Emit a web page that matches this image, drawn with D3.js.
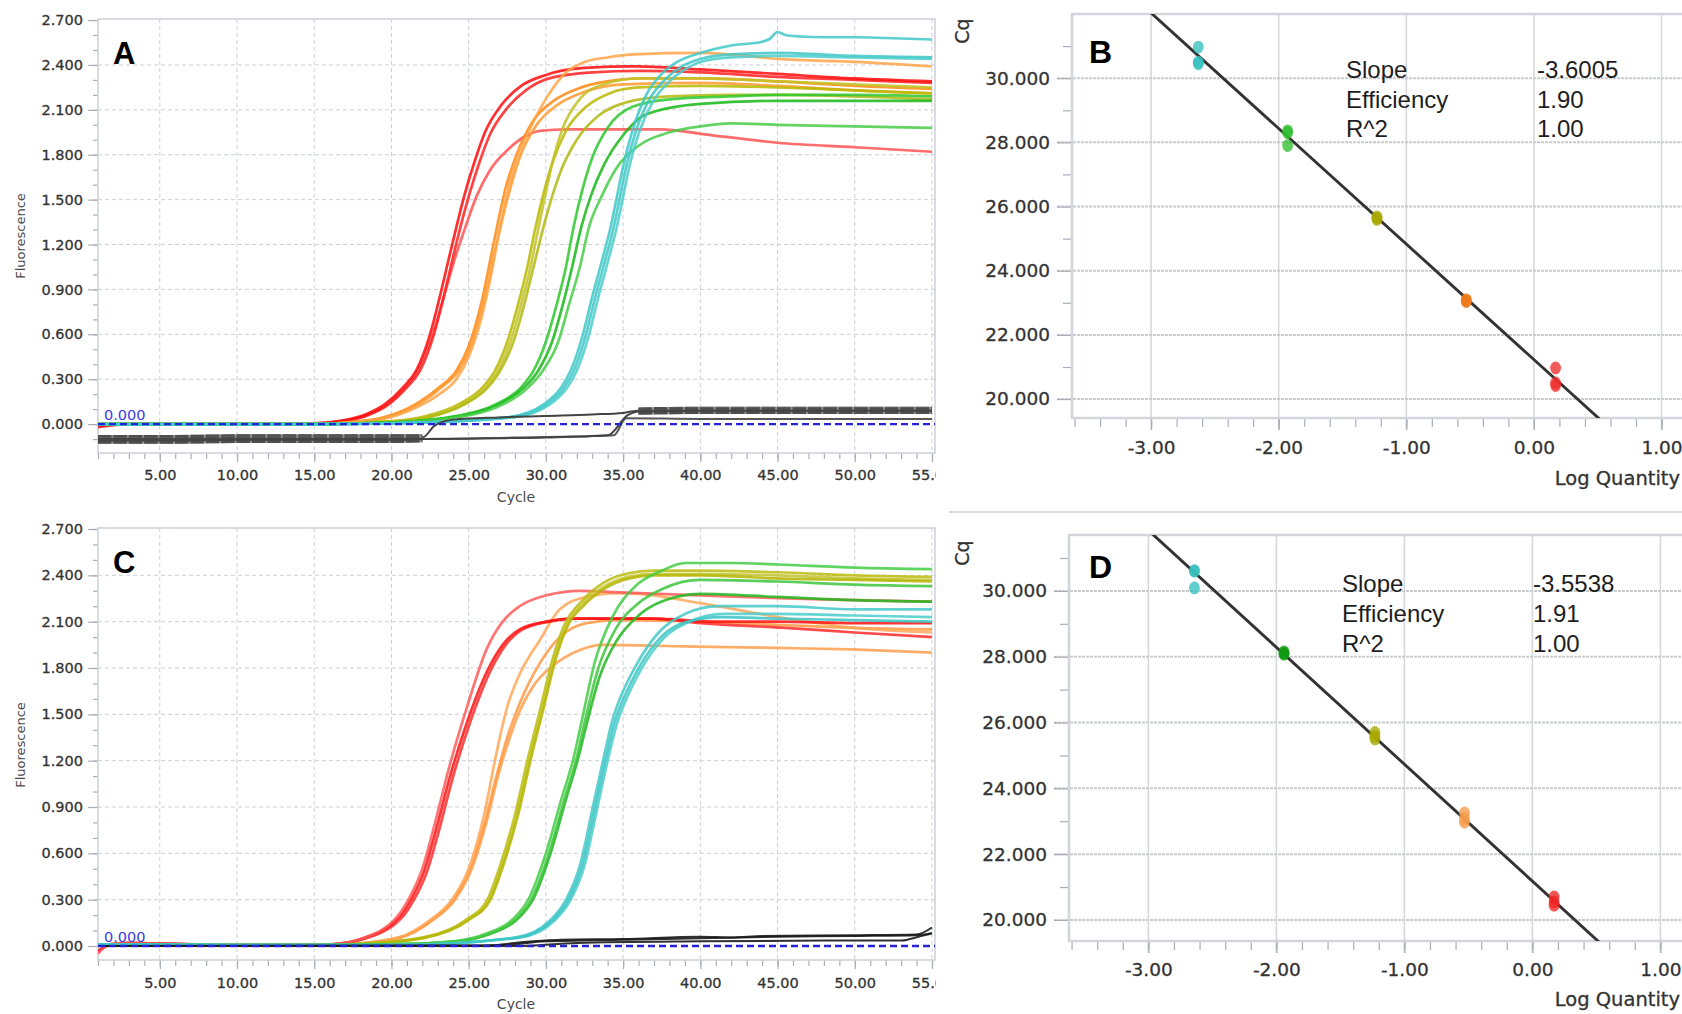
<!DOCTYPE html>
<html><head><meta charset="utf-8">
<script src="https://cdn.jsdelivr.net/npm/d3@7"></script>
<style>body{margin:0;background:#fff}svg{display:block}</style>
</head><body>
<svg id="chart" width="1682" height="1014"></svg>
<script>
// ---------------- DATA ----------------
const cycleTicks = [5,10,15,20,25,30,35,40,45,50,55];
const fluorTicks = [0,0.3,0.6,0.9,1.2,1.5,1.8,2.1,2.4,2.7];
const logQtyTicks = [-3,-2,-1,0,1];
const cqTicks = [20,22,24,26,28,30];
const statLabels = ['Slope','Efficiency','R^2'];
const statsB = ['-3.6005','1.90','1.00'];
const statsD = ['-3.5538','1.91','1.00'];
const thresholdLabel = '0.000';

// Panel A amplification curves [cycle, fluorescence]
const A_R1 = [[1,-0.01],[3,0],[10,0],[15,0.005],[16.8,0.024],[18.4,0.068],[19.6,0.135],[20.75,0.246],[21.6,0.357],[22.5,0.6],[23.2,0.88],[23.7,1.1],[24.26,1.34],[24.7,1.52],[25.4,1.76],[26.1,1.96],[27.1,2.13],[28.4,2.26],[29.9,2.33],[32.5,2.38],[35.7,2.39],[40,2.37],[45,2.34],[50,2.31],[55,2.29]];
const A_R2 = [[1,-0.02],[3,0],[10,0],[15,0.005],[17,0.022],[18.6,0.065],[19.8,0.13],[21,0.245],[21.85,0.357],[22.75,0.6],[23.45,0.88],[23.95,1.1],[24.5,1.33],[25,1.52],[25.7,1.75],[26.4,1.94],[27.4,2.1],[28.7,2.23],[30.2,2.31],[33,2.35],[36,2.36],[40,2.35],[45,2.32],[50,2.3],[55,2.28]];
const A_R3 = [[1,-0.01],[3,0],[10,0],[15,0.005],[16.8,0.02],[18.4,0.06],[19.6,0.12],[20.75,0.23],[21.6,0.34],[22.5,0.55],[23.2,0.78],[24,1.07],[24.8,1.32],[25.5,1.52],[26.4,1.7],[27.5,1.83],[28.6,1.92],[29.6,1.96],[31.4,1.97],[35.7,1.97],[37.5,1.97],[40,1.94],[45,1.88],[50,1.85],[55,1.82]];
const A_O1 = [[1,0],[10,0],[15,0],[17,0.008],[19.5,0.035],[21.6,0.11],[23.1,0.2],[24.2,0.3],[25,0.45],[25.8,0.7],[26.5,1.02],[27,1.3],[27.4,1.5],[28,1.74],[29,1.98],[30.1,2.19],[31.2,2.34],[32.5,2.42],[34,2.45],[35.7,2.47],[40,2.48],[42,2.47],[45,2.44],[50,2.42],[55,2.39]];
const A_O2 = [[1,0],[10,0],[15,0],[17,0.01],[19.5,0.045],[21.6,0.135],[23.1,0.246],[24.2,0.357],[25,0.52],[25.8,0.8],[26.6,1.2],[27.4,1.58],[28.1,1.8],[29.2,2.03],[30.5,2.16],[32.3,2.25],[34.7,2.3],[36.2,2.31],[40,2.31],[45,2.29],[50,2.26],[55,2.24]];
const A_O3 = [[1,0],[10,0],[15,0],[17,0.01],[19.7,0.045],[21.8,0.135],[23.25,0.246],[24.35,0.357],[25.15,0.52],[25.95,0.8],[26.75,1.18],[27.55,1.52],[28.3,1.78],[29.4,2.0],[30.7,2.13],[32.5,2.22],[35,2.27],[40,2.28],[45,2.26],[50,2.23],[55,2.21]];
const A_Y1 = [[1,0],[10,0],[15,0],[20,0.02],[22.3,0.056],[24.4,0.135],[25.9,0.246],[26.7,0.357],[27.5,0.55],[28.2,0.8],[28.8,1.05],[29.3,1.3],[29.8,1.52],[30.4,1.74],[31.3,1.96],[32.6,2.12],[34.1,2.21],[36,2.25],[40,2.26],[45,2.25],[50,2.23],[55,2.21]];
const A_Y2 = [[1,0],[10,0],[15,0],[20,0.018],[22.5,0.05],[24.6,0.13],[26.1,0.246],[26.9,0.357],[27.7,0.55],[28.4,0.8],[29,1.05],[29.5,1.3],[30,1.55],[30.5,1.78],[31.1,1.98],[32.1,2.16],[33.7,2.27],[36,2.31],[40,2.31],[45,2.29],[50,2.27],[55,2.25]];
const A_Y3 = [[1,0],[10,0],[15,0],[20,0.015],[22.6,0.05],[24.7,0.13],[26.2,0.24],[27,0.35],[27.9,0.55],[28.6,0.8],[29.2,1.05],[29.8,1.3],[30.4,1.52],[31,1.7],[32,1.9],[33.4,2.06],[35.2,2.15],[38,2.19],[42,2.2],[45,2.2],[50,2.19],[55,2.17]];
const A_G1 = [[1,0],[10,0],[15,0],[20,0.01],[24.9,0.068],[26.8,0.135],[28.4,0.246],[29.2,0.357],[30,0.55],[30.7,0.8],[31.3,1.05],[31.8,1.32],[32.4,1.58],[33,1.78],[34,1.98],[35.6,2.12],[38,2.17],[42,2.19],[45,2.2],[50,2.2],[55,2.19]];
const A_G2 = [[1,0],[10,0],[15,0],[20,0.01],[25.1,0.068],[27,0.135],[28.6,0.246],[29.5,0.357],[30.4,0.55],[31.1,0.8],[31.7,1.05],[32.3,1.32],[33,1.55],[33.8,1.74],[35,1.93],[36.5,2.07],[40,2.14],[45,2.16],[50,2.16],[55,2.16]];
const A_G3 = [[1,0],[10,0],[15,0],[20,0.01],[25.3,0.065],[27.2,0.13],[28.8,0.24],[29.8,0.357],[30.8,0.55],[31.5,0.8],[32.2,1.05],[32.8,1.32],[33.6,1.52],[34.5,1.7],[36,1.86],[38,1.95],[40,1.99],[42,2.01],[45,2.0],[50,1.99],[55,1.98]];
const A_C1 = [[1,0],[10,0],[15,0],[20,0.005],[27.5,0.045],[29.9,0.135],[31,0.246],[31.6,0.357],[32.4,0.6],[33,0.85],[33.6,1.08],[34.2,1.32],[34.6,1.52],[35,1.72],[35.6,1.96],[36.5,2.2],[37.5,2.34],[38.5,2.42],[40,2.48],[42,2.53],[44,2.555],[44.5,2.575],[45,2.62],[45.5,2.6],[46.5,2.59],[48,2.585],[50,2.585],[52,2.58],[55,2.57]];
const A_C2 = [[1,0],[10,0],[15,0],[20,0.005],[27.7,0.045],[30.1,0.135],[31.2,0.246],[31.8,0.357],[32.6,0.6],[33.2,0.85],[33.8,1.08],[34.4,1.32],[34.8,1.52],[35.2,1.72],[35.8,1.95],[36.7,2.17],[37.7,2.3],[38.8,2.39],[40,2.44],[42,2.47],[45,2.48],[50,2.46],[55,2.45]];
const A_C3 = [[1,0],[10,0],[15,0],[20,0.005],[27.9,0.045],[30.3,0.135],[31.4,0.246],[32,0.357],[32.8,0.6],[33.4,0.85],[34,1.08],[34.6,1.32],[35,1.52],[35.4,1.72],[36,1.94],[36.9,2.15],[37.9,2.28],[39,2.37],[40,2.42],[42,2.45],[45,2.46],[50,2.45],[55,2.44]];
// Panel A no-template controls
const A_N1 = [[1,-0.095],[5,-0.095],[10,-0.09],[15,-0.09],[20,-0.09],[22,-0.09],[22.8,-0.01],[24,0.03],[27,0.045],[30,0.055],[33,0.065],[35,0.075],[36,0.09],[40,0.095],[45,0.095],[50,0.095],[55,0.095]];
const A_N2 = [[1,-0.11],[5,-0.11],[10,-0.105],[15,-0.105],[20,-0.105],[22,-0.1],[26,-0.095],[30,-0.09],[34,-0.075],[35.3,0.06],[36,0.085],[40,0.09],[45,0.09],[50,0.09],[55,0.09]];
const A_N3 = [[1,-0.1],[10,-0.1],[20,-0.1],[22,-0.1],[28,-0.09],[33,-0.08],[34.4,-0.075],[35.2,0.04],[40,0.035],[45,0.035],[50,0.035],[55,0.035]];

// Panel C amplification curves
const C_R1 = [[1,-0.05],[1.7,0.01],[3,0.02],[5,0.015],[10,0.005],[15,0.005],[17,0.02],[18.4,0.06],[19.3,0.1],[20,0.15],[20.6,0.22],[21.1,0.3],[22,0.5],[22.7,0.75],[23.8,1.18],[24.9,1.55],[26.2,1.93],[27.2,2.1],[28.3,2.2],[30,2.27],[32.2,2.3],[34.7,2.29],[40,2.27],[45.5,2.25],[50,2.24],[55,2.23]];
const C_R2 = [[1,-0.04],[1.7,0.01],[3,0.02],[5,0.015],[10,0.005],[15,0.005],[17,0.02],[18.4,0.058],[19.3,0.095],[20,0.14],[20.7,0.21],[21.2,0.29],[22.1,0.48],[22.8,0.72],[23.8,1.1],[24.9,1.45],[26.2,1.78],[27.2,1.95],[28.3,2.05],[30,2.1],[31.7,2.12],[37,2.12],[41,2.1],[45,2.1],[50,2.09],[55,2.09]];
const C_R3 = [[1,-0.03],[2,0.01],[5,0.015],[10,0.005],[15,0.005],[17.2,0.02],[18.6,0.058],[19.5,0.095],[20.2,0.14],[20.9,0.21],[21.4,0.29],[22.3,0.48],[23,0.72],[24,1.1],[25.1,1.45],[26.4,1.78],[27.4,1.95],[28.5,2.05],[30.2,2.1],[32,2.12],[37,2.12],[40,2.09],[45.5,2.06],[50,2.03],[55,2.0]];
const C_O1 = [[1,0.01],[10,0.005],[15,0.005],[17,0.01],[20.4,0.054],[22.5,0.168],[23.9,0.298],[25,0.5],[26,0.85],[26.8,1.25],[27.5,1.55],[28.3,1.76],[29.6,1.98],[30.9,2.18],[32.6,2.26],[34.7,2.285],[36,2.28],[40,2.22],[45,2.13],[50,2.06],[55,2.03]];
const C_O2 = [[1,0.01],[10,0.005],[15,0.005],[17,0.01],[20.5,0.054],[22.6,0.168],[24,0.298],[25.1,0.5],[26.1,0.82],[26.8,1.1],[27.5,1.35],[28.3,1.57],[29.6,1.83],[30.9,2.0],[32.6,2.09],[34.7,2.11],[40,2.1],[45,2.08],[50,2.06],[55,2.05]];
const C_O3 = [[1,0.01],[10,0.005],[15,0.005],[17,0.01],[20.6,0.054],[22.7,0.168],[24.1,0.298],[25.2,0.5],[26.2,0.82],[26.9,1.1],[27.6,1.33],[28.3,1.52],[29.3,1.7],[30.4,1.81],[32.2,1.917],[33.7,1.95],[39,1.94],[45,1.93],[49.8,1.92],[55,1.9]];
const C_Y1 = [[1,0.01],[10,0.005],[15,0.005],[18,0.015],[22,0.054],[24.8,0.168],[26.2,0.298],[27,0.51],[28,0.85],[28.8,1.2],[29.6,1.52],[30.5,1.88],[31.3,2.1],[32.2,2.22],[33.7,2.35],[35.2,2.41],[37,2.43],[40,2.43],[45,2.42],[50,2.4],[55,2.39]];
const C_Y2 = [[1,0.01],[10,0.005],[15,0.005],[18,0.014],[22.1,0.054],[24.9,0.168],[26.3,0.298],[27.1,0.51],[28.1,0.85],[28.9,1.2],[29.7,1.52],[30.6,1.88],[31.4,2.1],[32.3,2.21],[33.8,2.33],[35.3,2.39],[37,2.41],[40,2.41],[45,2.4],[50,2.38],[55,2.37]];
const C_Y3 = [[1,0.01],[10,0.005],[15,0.005],[18,0.013],[22.2,0.054],[25,0.168],[26.4,0.298],[27.2,0.51],[28.2,0.85],[29,1.2],[29.8,1.52],[30.7,1.88],[31.5,2.09],[32.4,2.2],[33.9,2.32],[35.4,2.38],[37,2.4],[40,2.4],[45,2.38],[50,2.37],[55,2.36]];
const C_G1 = [[1,0.01],[10,0.005],[15,0.005],[20,0.01],[24,0.03],[26.2,0.082],[27.8,0.168],[28.85,0.298],[30,0.6],[31,0.95],[31.8,1.22],[32.2,1.4],[33.2,1.85],[34.3,2.13],[35.8,2.33],[37.5,2.43],[39,2.48],[42,2.48],[45,2.47],[50,2.45],[55,2.44]];
const C_G2 = [[1,0.01],[10,0.005],[15,0.005],[20,0.01],[24.2,0.03],[26.4,0.082],[28,0.168],[29.05,0.298],[30.2,0.6],[31.2,0.95],[32,1.22],[32.4,1.4],[33.4,1.8],[34.5,2.05],[36,2.22],[37.5,2.31],[40,2.37],[45,2.36],[50,2.34],[55,2.33]];
const C_G3 = [[1,0.01],[10,0.005],[15,0.005],[20,0.01],[24.3,0.03],[26.5,0.082],[28.1,0.168],[29.15,0.298],[30.3,0.6],[31.3,0.95],[32.1,1.22],[32.5,1.38],[33.5,1.75],[34.6,1.98],[36,2.14],[37.5,2.23],[40,2.28],[45,2.26],[50,2.24],[55,2.23]];
const C_C1 = [[1,0.01],[10,0.005],[15,0.005],[20,0.005],[28,0.054],[30.3,0.168],[31.3,0.298],[32.2,0.52],[33,0.88],[33.7,1.2],[34.3,1.46],[35,1.65],[35.8,1.81],[37.3,2.03],[39,2.15],[41.2,2.2],[45,2.2],[50,2.18],[55,2.18]];
const C_C2 = [[1,0.01],[10,0.005],[15,0.005],[20,0.005],[28.3,0.054],[30.6,0.168],[31.6,0.298],[32.5,0.52],[33.3,0.88],[34,1.2],[34.6,1.44],[35.3,1.62],[36.1,1.78],[37.6,1.99],[39.3,2.1],[41.5,2.15],[45,2.15],[50,2.14],[55,2.13]];
const C_C3 = [[1,0.01],[10,0.005],[15,0.005],[20,0.005],[28.15,0.054],[30.45,0.168],[31.45,0.298],[32.35,0.52],[33.15,0.88],[33.85,1.2],[34.45,1.45],[35.15,1.63],[35.95,1.79],[37.45,2.0],[39.15,2.1],[41.3,2.13],[45,2.12],[50,2.11],[55,2.1]];
// Panel C no-template controls
const C_K1 = [[1,0],[26,0],[28,0.02],[31,0.04],[35,0.045],[40,0.06],[42,0.055],[44,0.065],[50,0.07],[54,0.075],[55,0.12]];
const C_K2 = [[1,0],[27,0.005],[30,0.03],[35,0.04],[40,0.05],[45,0.06],[50,0.065],[54,0.07],[55,0.085]];
const C_K3 = [[1,0],[28,0],[32,0.02],[40,0.03],[50,0.035],[53,0.035],[54.5,0.07],[55,0.08]];

// Standard curves: log quantity, Cq, dilution level (0 = highest conc.)
const B_logq = [-2.63,-2.63,-2.63,-1.93,-1.93,-1.93,-1.23,-1.23,-1.23,-0.53,-0.53,-0.53,0.17,0.17,0.17];
const B_cq   = [30.97,30.50,30.45,28.36,28.30,27.90,25.68,25.64,25.60,23.10,23.06,23.04,20.97,20.50,20.42];
const B_level= [4,4,4,3,3,3,2,2,2,1,1,1,0,0,0];
const B_fit  = {slope:-3.6005, intercept:21.23};
const D_logq = [-2.64,-2.64,-2.64,-1.94,-1.94,-1.94,-1.23,-1.23,-1.23,-0.53,-0.53,-0.53,0.17,0.17,0.17];
const D_cq   = [30.62,30.60,30.09,28.15,28.10,28.08,25.70,25.58,25.50,23.25,23.08,22.97,20.70,20.55,20.45];
const D_level= [4,4,4,3,3,3,2,2,2,1,1,1,0,0,0];
const D_fit  = {slope:-3.5538, intercept:21.18};

// ---------------- STYLES ----------------
const seriesA = [
  [A_R3,'#ff5252'],[A_R2,'#ff2020'],[A_R1,'#ff0a0a'],
  [A_O2,'#ff8a10'],[A_O3,'#ff9a30'],[A_O1,'#ffa448'],
  [A_Y1,'#b8b800'],[A_Y2,'#c2c228'],[A_Y3,'#b0b810'],
  [A_G1,'#2ec82e'],[A_G2,'#18b818'],[A_G3,'#48cc48'],
  [A_C2,'#3ec6c6'],[A_C3,'#4ccccc'],[A_C1,'#40c8c8']
];
const seriesC = [
  [C_O3,'#ffa050'],[C_O2,'#ff9840'],[C_O1,'#ffa858'],
  [C_R3,'#ff2a2a'],[C_R2,'#ff1010'],[C_R1,'#ff5a5a'],
  [C_Y1,'#bcbc10'],[C_Y2,'#c4c430'],[C_Y3,'#b4b400'],
  [C_G3,'#20b820'],[C_G2,'#3ec43e'],[C_G1,'#44cc44'],
  [C_C1,'#44c8c8'],[C_C2,'#4ccccc'],[C_C3,'#3cc4c4']
];
const levelColorsB = ['#f02c2c','#ee7a1a','#a8a800','#2fbf2f','#35bfbf'];
const levelColorsD = ['#f02424','#f59a48','#a8a800','#0f9a0f','#35bfbf'];
const tickFont = '"DejaVu Sans", Verdana, sans-serif';

// ---------------- DRAW ----------------
const svg = d3.select('#chart');
const defs = svg.append('defs');
defs.append('clipPath').attr('id','leftClip').append('rect').attr('x',0).attr('y',0).attr('width',936).attr('height',1014);

function styleAxis(sel, size){
  sel.select('.domain').remove();
  sel.selectAll('.tick line').attr('stroke','#a9aeb6').attr('stroke-width',1.2);
  sel.selectAll('.tick text').attr('font-family',tickFont).attr('font-size',size)
    .attr('fill','#333').attr('stroke','#333').attr('stroke-width',0.3);
}

function drawAmp(o){
  const L = 98, R = 935;
  const g = svg.append('g').attr('clip-path','url(#leftClip)');
  const x = d3.scaleLinear().domain([1,55]).range([98,932]);
  const y = d3.scaleLinear().domain(o.yDom).range([o.bottom,o.top]);
  // grid
  g.append('g').selectAll('line').data(cycleTicks).join('line')
    .attr('x1',d=>x(d)).attr('x2',d=>x(d)).attr('y1',o.top).attr('y2',o.bottom)
    .attr('stroke','#cdd0d6').attr('stroke-width',1).attr('stroke-dasharray','4,3');
  g.append('g').selectAll('line').data(fluorTicks.filter(v=>v>0&&v<2.7)).join('line')
    .attr('x1',L).attr('x2',R).attr('y1',d=>y(d)).attr('y2',d=>y(d))
    .attr('stroke','#cdd0d6').attr('stroke-width',1).attr('stroke-dasharray','4,3');
  // axes
  const minorX = d3.range(1,56);
  const minorY = d3.range(-1,28).map(i=>i/10).filter(v=>v>=o.yDom[0]&&v<=o.yDom[1]);
  g.append('g').attr('transform',`translate(0,${o.bottom})`)
    .call(d3.axisBottom(x).tickValues(minorX).tickSize(6).tickFormat('')).call(s=>styleAxis(s,13));
  g.append('g').attr('transform',`translate(0,${o.bottom})`)
    .call(d3.axisBottom(x).tickValues(cycleTicks).tickSize(9).tickPadding(o.xPad).tickFormat(d=>d.toFixed(2)))
    .call(s=>styleAxis(s,14.5));
  g.append('g').attr('transform',`translate(${L},0)`)
    .call(d3.axisLeft(y).tickValues(minorY).tickSize(5).tickFormat('')).call(s=>styleAxis(s,13));
  g.append('g').attr('transform',`translate(${L},0)`)
    .call(d3.axisLeft(y).tickValues(fluorTicks).tickSize(10).tickPadding(5).tickFormat(d=>d.toFixed(3)))
    .call(s=>styleAxis(s,14.5));
  // box
  g.append('rect').attr('x',L).attr('y',o.top).attr('width',R-L).attr('height',o.bottom-o.top)
    .attr('fill','none').attr('stroke','#cfd3da').attr('stroke-width',1.6);
  // plot clip
  defs.append('clipPath').attr('id','plot'+o.id).append('rect')
    .attr('x',L).attr('y',o.top).attr('width',R-L).attr('height',o.bottom-o.top);
  const pg = g.append('g').attr('clip-path',`url(#plot${o.id})`);
  const line = d3.line().x(d=>x(d[0])).y(d=>y(d[1])).curve(d3.curveMonotoneX);
  o.series.forEach(([d,c])=>{
    pg.append('path').attr('d',line(d)).attr('fill','none').attr('stroke',c)
      .attr('stroke-width',2.7).attr('stroke-opacity',0.85).attr('stroke-linejoin','round');
  });
  // controls
  (o.bandNtc||[]).forEach(d=>{
    [d.filter(p=>p[0]<=22), d.filter(p=>p[0]>=36)].forEach(seg=>{
      pg.append('path').attr('d',line(seg)).attr('fill','none').attr('stroke','#8e8e8e').attr('stroke-width',6.5);
      pg.append('path').attr('d',line(seg)).attr('fill','none').attr('stroke','#4e4e4e')
        .attr('stroke-width',6.5).attr('stroke-dasharray','13.4,2');
    });
    pg.append('path').attr('d',line(d)).attr('fill','none').attr('stroke','#444').attr('stroke-width',2);
  });
  (o.thinNtc||[]).forEach(d=>{
    pg.append('path').attr('d',line(d)).attr('fill','none').attr('stroke',o.ntcColor)
      .attr('stroke-width',2).attr('stroke-opacity',0.9);
  });
  // threshold
  pg.append('line').attr('x1',L).attr('x2',R).attr('y1',y(0)).attr('y2',y(0))
    .attr('stroke','#2424d6').attr('stroke-width',2.4).attr('stroke-dasharray','7,4');
  g.append('text').attr('x',L+6).attr('y',y(0)-4).text(thresholdLabel)
    .attr('font-family',tickFont).attr('font-size',14.5).attr('fill','#3a3ae6');
  // titles
  g.append('text').attr('transform',`translate(25,${o.fluorY}) rotate(-90)`).attr('text-anchor','middle')
    .text('Fluorescence').attr('font-family',tickFont).attr('font-size',13).attr('fill','#4a4a4a');
  g.append('text').attr('x',516).attr('y',o.cycleY).attr('text-anchor','middle')
    .text('Cycle').attr('font-family',tickFont).attr('font-size',14).attr('fill','#4a4a4a');
  g.append('text').attr('x',113).attr('y',o.letterY).text(o.letter)
    .attr('font-family','"Liberation Sans", Arial, sans-serif').attr('font-weight','bold')
    .attr('font-size',31).attr('fill','#000');
}

function drawStd(o){
  const L = o.left, R = 1682;
  const g = svg.append('g');
  const x = d3.scaleLinear().domain([-3.62,1.5]).range([L, L+5.12*o.pxPerLog]);
  const y = d3.scaleLinear().domain(o.yDom).range([o.bottom,o.top]);
  g.append('g').selectAll('line').data(logQtyTicks).join('line')
    .attr('x1',d=>x(d)).attr('x2',d=>x(d)).attr('y1',o.top).attr('y2',o.bottom+12)
    .attr('stroke','#d6d8dc').attr('stroke-width',1.6);
  g.append('g').selectAll('line').data(cqTicks).join('line')
    .attr('x1',L-15).attr('x2',R).attr('y1',d=>y(d)).attr('y2',d=>y(d))
    .attr('stroke','#c9cbcf').attr('stroke-width',2).attr('stroke-dasharray','3,1');
  const minorX = d3.range(-18,8).map(i=>i/5).filter(v=>v>-3.62);
  g.append('g').attr('transform',`translate(0,${o.bottom})`)
    .call(d3.axisBottom(x).tickValues(minorX).tickSize(9).tickFormat('')).call(s=>styleAxis(s,18));
  g.append('g').attr('transform',`translate(0,${o.bottom})`)
    .call(d3.axisBottom(x).tickValues(logQtyTicks).tickSize(12).tickPadding(o.xPad).tickFormat(d=>d.toFixed(2)))
    .call(s=>styleAxis(s,18.5));
  const minorY = d3.range(19,33).filter(v=>v%2===1 && v>=o.yDom[0] && v<=o.yDom[1]);
  g.append('g').attr('transform',`translate(${L},0)`)
    .call(d3.axisLeft(y).tickValues(minorY).tickSize(9).tickFormat('')).call(s=>styleAxis(s,18));
  g.append('g').attr('transform',`translate(${L},0)`)
    .call(d3.axisLeft(y).tickValues(cqTicks).tickSize(15).tickPadding(7).tickFormat(d=>d.toFixed(3)))
    .call(s=>styleAxis(s,18.5));
  g.append('path').attr('d',`M${R},${o.top}H${L}V${o.bottom}H${R}`).attr('fill','none')
    .attr('stroke','#d2d5da').attr('stroke-width',2.6);
  defs.append('clipPath').attr('id','std'+o.id).append('rect')
    .attr('x',L).attr('y',o.top).attr('width',R-L).attr('height',o.bottom-o.top);
  const pg = g.append('g').attr('clip-path',`url(#std${o.id})`);
  const xs = x.domain();
  pg.append('line').attr('x1',x(xs[0])).attr('x2',x(xs[1]))
    .attr('y1',y(o.fit.intercept+o.fit.slope*xs[0])).attr('y2',y(o.fit.intercept+o.fit.slope*xs[1]))
    .attr('stroke','#333').attr('stroke-width',2.9);
  pg.selectAll('ellipse').data(o.logq.map((q,i)=>[q,o.cq[i],o.level[i]])).join('ellipse')
    .attr('cx',d=>x(d[0])).attr('cy',d=>y(d[1])).attr('rx',5.4).attr('ry',6.4)
    .attr('fill',d=>o.colors[d[2]]).attr('fill-opacity',0.78);
  statLabels.forEach((t,i)=>{
    g.append('text').attr('x',o.statX).attr('y',o.statY[i]).text(t)
      .attr('font-family','"Liberation Sans", Arial, sans-serif').attr('font-size',24).attr('fill','#1e1e1e');
    g.append('text').attr('x',o.valX).attr('y',o.statY[i]).text(o.stats[i])
      .attr('font-family','"Liberation Sans", Arial, sans-serif').attr('font-size',24).attr('fill','#1e1e1e');
  });
  g.append('text').attr('transform',`translate(969,${o.cqY}) rotate(-90)`).attr('text-anchor','middle')
    .text('Cq').attr('font-family',tickFont).attr('font-size',19).attr('fill','#333')
    .attr('stroke','#333').attr('stroke-width',0.3);
  g.append('text').attr('x',1680).attr('y',o.logY).attr('text-anchor','end')
    .text('Log Quantity').attr('font-family',tickFont).attr('font-size',19.5).attr('fill','#333')
    .attr('stroke','#333').attr('stroke-width',0.3);
  g.append('text').attr('x',1089).attr('y',o.letterY).text(o.letter)
    .attr('font-family','"Liberation Sans", Arial, sans-serif').attr('font-weight','bold')
    .attr('font-size',32).attr('fill','#000');
}

drawAmp({id:'A',letter:'A',top:19,bottom:453,yDom:[-0.193,2.707],xPad:8,series:seriesA,
  bandNtc:[A_N1,A_N2],thinNtc:[A_N3],ntcColor:'#444',fluorY:236,cycleY:502,letterY:64});
drawAmp({id:'C',letter:'C',top:528,bottom:960,yDom:[-0.0907,2.7065],xPad:9,series:seriesC,
  thinNtc:[C_K1,C_K2,C_K3],ntcColor:'#1a1a1a',fluorY:745,cycleY:1009,letterY:573});

drawStd({id:'B',letter:'B',left:1072,top:14,bottom:418,yDom:[19.41,32.0],pxPerLog:127.6,xPad:11,
  logq:B_logq,cq:B_cq,level:B_level,fit:B_fit,colors:levelColorsB,stats:statsB,
  statX:1346,valX:1537,statY:[78,108,137],cqY:31,logY:485,letterY:63});
drawStd({id:'D',letter:'D',left:1069,top:535,bottom:941,yDom:[19.36,31.70],pxPerLog:128,xPad:10,
  logq:D_logq,cq:D_cq,level:D_level,fit:D_fit,colors:levelColorsD,stats:statsD,
  statX:1342,valX:1533,statY:[592,622,652],cqY:553,logY:1006,letterY:578});

svg.append('line').attr('x1',949).attr('x2',1682).attr('y1',512).attr('y2',512)
  .attr('stroke','#d9dbdf').attr('stroke-width',2);
</script>
</body></html>
